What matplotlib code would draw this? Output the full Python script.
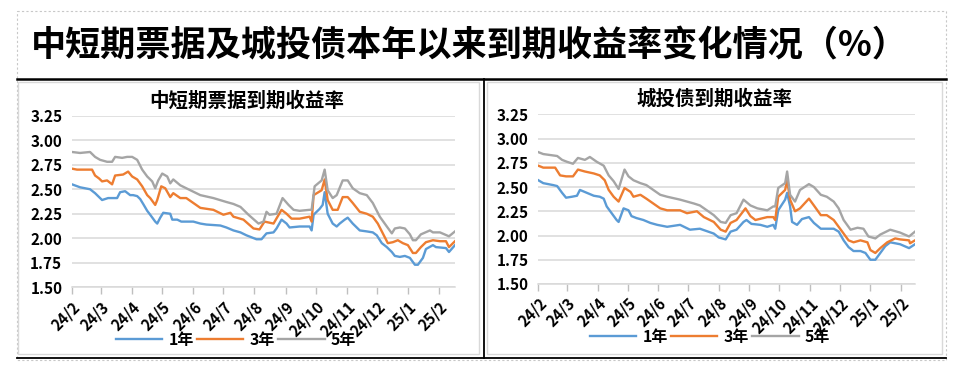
import numpy as np
import pandas as pd
import matplotlib
matplotlib.use("Agg")
import matplotlib.pyplot as plt
from matplotlib.lines import Line2D
from matplotlib.patches import Rectangle

plt.rcParams['font.family'] = ['Noto Sans CJK SC', 'DejaVu Sans']

# ---------------- data ----------------
main_title = "中短期票据及城投债本年以来到期收益率变化情况（%）"
left_title = "中短期票据到期收益率"
right_title = "城投债到期收益率"
series_names = ["1年", "3年", "5年"]
start_date = "2024-02-01"
month_labels = ["24/2", "24/3", "24/4", "24/5", "24/6", "24/7", "24/8",
                "24/9", "24/10", "24/11", "24/12", "25/1", "25/2"]
y_ticks = [1.50, 1.75, 2.00, 2.25, 2.50, 2.75, 3.00, 3.25]

# left panel: days since 2024-02-01 and yields
L1_days = [0, 8, 18, 23, 27, 30, 36, 45, 48, 53, 58, 61, 65, 68, 71, 75, 78, 83, 85, 88,
           91, 98, 100, 105, 109, 121, 128, 134, 148, 154, 161, 168, 174, 184, 189, 194,
           201, 204, 209, 214, 217, 227, 237, 239, 241, 247, 250, 252, 255, 260, 264, 267,
           272, 275, 280, 287, 294, 300, 304, 309, 314, 319, 322, 327, 332, 337, 342, 345,
           350, 353, 360, 363, 373, 376, 382]
L1_vals = [2.55, 2.52, 2.50, 2.46, 2.42, 2.39, 2.41, 2.41, 2.47, 2.48, 2.44, 2.44, 2.43, 2.40,
           2.35, 2.28, 2.24, 2.17, 2.15, 2.21, 2.26, 2.25, 2.19, 2.19, 2.17, 2.17, 2.15, 2.14,
           2.13, 2.11, 2.08, 2.06, 2.03, 1.99, 1.99, 2.05, 2.06, 2.10, 2.19, 2.15, 2.11, 2.12,
           2.12, 2.08, 2.24, 2.30, 2.34, 2.47, 2.25, 2.15, 2.12, 2.15, 2.19, 2.21, 2.15, 2.08,
           2.07, 2.06, 2.03, 1.95, 1.91, 1.86, 1.82, 1.81, 1.82, 1.80, 1.73, 1.73, 1.80, 1.89,
           1.93, 1.91, 1.90, 1.86, 1.93]

L3_days = [0, 5, 20, 23, 27, 30, 35, 40, 43, 51, 56, 60, 65, 70, 75, 78, 83, 85, 89, 93,
           98, 101, 108, 114, 128, 141, 151, 158, 161, 171, 181, 187, 192, 201, 209, 214,
           219, 227, 237, 239, 241, 249, 252, 255, 260, 265, 270, 275, 280, 287, 294, 300,
           305, 310, 315, 320, 325, 330, 335, 340, 343, 348, 353, 360, 367, 373, 376, 382]
L3_vals = [2.71, 2.70, 2.70, 2.64, 2.61, 2.58, 2.59, 2.55, 2.64, 2.65, 2.68, 2.63, 2.60, 2.53,
           2.44, 2.41, 2.34, 2.39, 2.53, 2.51, 2.42, 2.46, 2.41, 2.41, 2.31, 2.29, 2.24, 2.26,
           2.22, 2.19, 2.10, 2.09, 2.17, 2.15, 2.29, 2.25, 2.20, 2.20, 2.22, 2.17, 2.44, 2.49,
           2.60, 2.39, 2.29, 2.29, 2.42, 2.42, 2.36, 2.27, 2.25, 2.22, 2.15, 2.05, 1.95, 1.96,
           1.98, 1.95, 1.93, 1.85, 1.85, 1.91, 1.96, 1.98, 1.97, 1.97, 1.91, 1.97]

L5_days = [0, 8, 18, 23, 28, 35, 40, 43, 50, 55, 60, 65, 70, 75, 80, 83, 86, 90, 95, 98,
           101, 108, 114, 128, 141, 154, 161, 168, 176, 186, 191, 194, 197, 204, 210, 216,
           221, 227, 237, 239, 242, 249, 252, 255, 260, 264, 270, 275, 280, 287, 294, 300,
           307, 314, 319, 322, 327, 332, 337, 340, 343, 348, 357, 360, 367, 376, 382]
L5_vals = [2.88, 2.87, 2.88, 2.83, 2.80, 2.78, 2.78, 2.83, 2.82, 2.83, 2.83, 2.80, 2.70, 2.63,
           2.58, 2.51, 2.59, 2.66, 2.63, 2.56, 2.60, 2.54, 2.51, 2.44, 2.41, 2.37, 2.35, 2.32,
           2.24, 2.15, 2.17, 2.27, 2.24, 2.25, 2.41, 2.34, 2.29, 2.28, 2.29, 2.29, 2.53, 2.59,
           2.70, 2.49, 2.41, 2.44, 2.59, 2.59, 2.51, 2.46, 2.44, 2.36, 2.22, 2.12, 2.05, 2.10,
           2.11, 2.10, 2.04, 1.98, 1.98, 2.04, 2.08, 2.06, 2.06, 2.02, 2.07]

# right panel
R1_days = [0, 5, 15, 19, 24, 28, 34, 39, 42, 49, 56, 62, 66, 69, 74, 79, 81, 86, 91, 94,
           99, 106, 113, 120, 130, 143, 153, 163, 177, 182, 189, 194, 200, 207, 210, 215,
           224, 231, 237, 239, 242, 249, 251, 254, 256, 261, 266, 273, 278, 285, 291, 298,
           303, 308, 313, 318, 325, 330, 335, 340, 345, 350, 355, 360, 365, 374, 380]
R1_vals = [2.57, 2.54, 2.52, 2.51, 2.44, 2.39, 2.40, 2.41, 2.47, 2.44, 2.41, 2.40, 2.38, 2.30,
           2.23, 2.16, 2.14, 2.28, 2.26, 2.20, 2.18, 2.16, 2.13, 2.11, 2.09, 2.11, 2.06, 2.07,
           2.02, 1.98, 1.96, 2.04, 2.06, 2.14, 2.16, 2.12, 2.11, 2.09, 2.11, 2.07, 2.26, 2.37,
           2.44, 2.30, 2.14, 2.11, 2.17, 2.19, 2.13, 2.07, 2.07, 2.07, 2.04, 1.95, 1.88, 1.84,
           1.84, 1.82, 1.75, 1.75, 1.82, 1.89, 1.93, 1.92, 1.91, 1.87, 1.91]

R3_days = [0, 5, 17, 22, 28, 35, 40, 47, 56, 62, 67, 71, 76, 81, 87, 93, 96, 103, 109, 123,
           130, 143, 150, 160, 167, 177, 184, 189, 194, 200, 209, 214, 219, 231, 237, 239,
           242, 249, 251, 254, 259, 264, 273, 278, 285, 291, 298, 303, 308, 313, 318, 325,
           332, 335, 340, 345, 352, 360, 365, 374, 375, 380]
R3_vals = [2.72, 2.70, 2.70, 2.62, 2.61, 2.61, 2.68, 2.66, 2.64, 2.62, 2.57, 2.47, 2.40, 2.35,
           2.49, 2.45, 2.40, 2.42, 2.38, 2.28, 2.26, 2.26, 2.23, 2.25, 2.19, 2.14, 2.06, 2.04,
           2.13, 2.16, 2.28, 2.20, 2.16, 2.19, 2.19, 2.16, 2.40, 2.47, 2.57, 2.37, 2.25, 2.28,
           2.38, 2.31, 2.21, 2.21, 2.16, 2.09, 2.02, 1.95, 1.93, 1.95, 1.93, 1.85, 1.82, 1.87,
           1.93, 1.97, 1.96, 1.95, 1.92, 1.95]

R5_days = [0, 5, 19, 24, 29, 35, 40, 47, 52, 59, 66, 71, 76, 81, 87, 91, 96, 103, 109, 123,
           130, 143, 157, 163, 177, 184, 189, 194, 200, 207, 214, 221, 231, 237, 239, 242,
           249, 251, 254, 259, 264, 273, 278, 285, 291, 298, 303, 308, 315, 322, 328, 333,
           340, 345, 355, 365, 374, 380]
R5_vals = [2.86, 2.84, 2.82, 2.78, 2.76, 2.74, 2.80, 2.78, 2.81, 2.76, 2.72, 2.62, 2.56, 2.48,
           2.68, 2.61, 2.57, 2.54, 2.52, 2.42, 2.40, 2.37, 2.33, 2.31, 2.21, 2.14, 2.13, 2.21,
           2.23, 2.37, 2.31, 2.28, 2.26, 2.30, 2.30, 2.49, 2.54, 2.66, 2.42, 2.35, 2.47, 2.53,
           2.50, 2.42, 2.40, 2.35, 2.28, 2.16, 2.06, 2.08, 2.07, 1.99, 1.97, 2.01, 2.06, 2.03,
           1.99, 2.04]

colors = ["#5B9BD5", "#ED7D31", "#A5A5A5"]

# ---------------- figure ----------------
W, H = 955, 366
fig = plt.figure(figsize=(W / 100, H / 100), dpi=100)
fig.patch.set_facecolor("white")

# frame overlay in pixel coordinates
ov = fig.add_axes([0, 0, 1, 1], zorder=0)
ov.set_xlim(0, W)
ov.set_ylim(H, 0)
ov.axis("off")
ov.add_patch(Rectangle((17, 11), 929, 349, fill=False, ec="#c8c8c8", lw=0.8, ls=(0, (2, 2))))
ov.add_patch(Rectangle((18, 82), 461, 272, fill=False, ec="#d9d9d9", lw=1.0))
ov.add_patch(Rectangle((487, 82), 455, 272, fill=False, ec="#d9d9d9", lw=1.0))
ov.plot([17, 946], [79, 79], color="black", lw=1.8)
ov.plot([17, 946], [357.5, 357.5], color="black", lw=1.3)
ov.plot([483.5, 483.5], [79, 357.5], color="black", lw=1.3)

fig.text(31 / W, 1 - 46 / H, main_title, fontsize=25.3, fontweight="bold",
         ha="left", va="center", color="black")

base = pd.Timestamp(start_date)
month_ticks = pd.date_range(start_date, periods=len(month_labels), freq="MS")


def draw_panel(rect, title, title_xy, days_list, vals_list, x_end, legend_xy):
    ax = fig.add_axes(rect, zorder=2)
    ax.set_facecolor("none")
    for d, v, c, n in zip(days_list, vals_list, colors, series_names):
        x = base + pd.to_timedelta(d, unit="D")
        ax.plot(x, v, color=c, lw=1.7, label=n, solid_joinstyle="round")
    ax.set_ylim(1.5, 3.25)
    ax.set_xlim(base, base + pd.Timedelta(days=x_end))
    ax.set_yticks(y_ticks)
    ax.set_yticklabels([f"{t:.2f}" for t in y_ticks], fontsize=11, fontweight="bold")
    ax.yaxis.grid(True, color="#d9d9d9", lw=1.1)
    ax.set_axisbelow(True)
    ax.tick_params(axis="y", length=0, pad=7)
    ax.set_xticks(month_ticks)
    ax.set_xticklabels(month_labels, rotation=45, ha="right", va="top",
                       rotation_mode="anchor", fontsize=11, fontweight="bold")
    ax.tick_params(axis="x", length=5, color="#bfbfbf", width=1, pad=3)
    for s in ["top", "right", "left"]:
        ax.spines[s].set_visible(False)
    ax.spines["bottom"].set_color("#d9d9d9")
    ax.spines["bottom"].set_linewidth(1.1)
    fig.text(title_xy[0] / W, 1 - title_xy[1] / H, title, fontsize=14,
             fontweight="bold", ha="center", va="center")
    handles = [Line2D([], [], color=c, lw=1.7) for c in colors]
    ax.legend(handles, series_names, ncol=3, loc="center",
              bbox_to_anchor=(legend_xy[0] / W, 1 - legend_xy[1] / H),
              bbox_transform=fig.transFigure, frameon=False,
              prop={"size": 11.5, "weight": "bold"}, handlelength=2.9,
              handletextpad=0.4, columnspacing=0.2, borderaxespad=0)
    return ax


draw_panel([72 / W, 1 - 287.3 / H, 383 / W, 171.6 / H], left_title, (247, 101),
           [L1_days, L3_days, L5_days], [L1_vals, L3_vals, L5_vals], 382, (236, 340))
draw_panel([538.3 / W, 1 - 284 / H, 376.7 / W, 169.7 / H], right_title, (714, 99),
           [R1_days, R3_days, R5_days], [R1_vals, R3_vals, R5_vals], 380, (710, 337))

fig.savefig("out.png", dpi=100, facecolor="white")
